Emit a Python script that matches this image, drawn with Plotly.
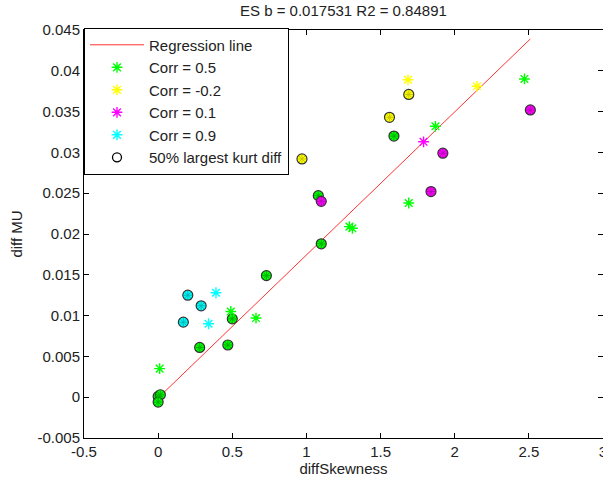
import plotly.graph_objects as go

title_text = "ES b = 0.017531 R2 = 0.84891"
x_label = "diffSkewness"
y_label = "diff MU"
slope_b = 0.017531
intercept_a = -0.0001

x_tickvals = [-0.5, 0, 0.5, 1, 1.5, 2, 2.5, 3]
x_ticktext = ["-0.5", "0", "0.5", "1", "1.5", "2", "2.5", "3"]
y_tickvals = [-0.005, 0, 0.005, 0.01, 0.015, 0.02, 0.025, 0.03, 0.035, 0.04, 0.045]
y_ticktext = ["-0.005", "0", "0.005", "0.01", "0.015", "0.02", "0.025", "0.03", "0.035", "0.04", "0.045"]

# Corr = 0.5 (green)
green_x = [0.0, 0.015, 0.0, 0.01, 0.28, 0.47, 0.49, 0.50, 0.66, 0.73, 1.10, 1.08, 1.29, 1.31, 1.59, 1.69, 1.87, 2.47]
green_y = [0.0001, 0.0003, -0.0006, 0.0035, 0.0061, 0.0064, 0.0105, 0.0096, 0.0097, 0.0149, 0.0188, 0.0247, 0.0209, 0.0207, 0.0320, 0.0238, 0.0332, 0.0390]
green_k = [1, 1, 1, 0, 1, 1, 0, 1, 0, 1, 1, 1, 0, 0, 1, 0, 0, 0]
# Corr = -0.2 (yellow)
yellow_x = [1.685, 2.15, 1.69, 1.56, 0.97]
yellow_y = [0.0389, 0.0381, 0.0371, 0.0343, 0.0292]
yellow_k = [0, 0, 1, 1, 1]
# Corr = 0.1 (magenta)
magenta_x = [1.10, 1.79, 1.92, 1.84, 2.51]
magenta_y = [0.0240, 0.0313, 0.0299, 0.0252, 0.0352]
magenta_k = [1, 0, 1, 1, 1]
# Corr = 0.9 (cyan)
cyan_x = [0.20, 0.29, 0.17, 0.39, 0.34]
cyan_y = [0.0125, 0.0112, 0.0092, 0.0128, 0.0090]
cyan_k = [1, 1, 1, 0, 0]

series_names = ["Corr = 0.5", "Corr = -0.2", "Corr = 0.1", "Corr = 0.9"]
series_colors = ["#00FF00", "#FFFF00", "#FF00FF", "#00FFFF"]
series_dark = ["#00B000", "#C8C800", "#C000C0", "#00B8B8"]
series_x = [green_x, yellow_x, magenta_x, cyan_x]
series_y = [green_y, yellow_y, magenta_y, cyan_y]
series_k = [green_k, yellow_k, magenta_k, cyan_k]
circle_name = "50% largest kurt diff"
line_name = "Regression line"

FONT = "Liberation Sans, Arial, sans-serif"

fig = go.Figure()

all_x = [v for xs in series_x for v in xs]
line_x = [min(all_x), max(all_x)]
line_y = [intercept_a + slope_b * v for v in line_x]
fig.add_trace(go.Scatter(x=line_x, y=line_y, mode="lines", name=line_name,
                         line=dict(color="#FF3333", width=1), legendgroup="g0"))

# filled circles (behind stars)
for name, col, dcol, xs, ys, ks in zip(series_names, series_colors, series_dark, series_x, series_y, series_k):
    cx = [x for x, k in zip(xs, ks) if k]
    cy = [y for y, k in zip(ys, ks) if k]
    fig.add_trace(go.Scatter(x=cx, y=cy, mode="markers", showlegend=False, hoverinfo="skip",
                             marker=dict(symbol="circle", size=10, color=col,
                                         line=dict(color="#333333", width=1.2))))
    fig.add_trace(go.Scatter(x=cx, y=cy, mode="markers", showlegend=False, hoverinfo="skip",
                             marker=dict(symbol="asterisk-open", size=7, color=dcol,
                                         line=dict(color=dcol, width=1))))

for i, (name, col, xs, ys, ks) in enumerate(zip(series_names, series_colors, series_x, series_y, series_k)):
    sx = [x for x, k in zip(xs, ks) if not k]
    sy = [y for y, k in zip(ys, ks) if not k]
    fig.add_trace(go.Scatter(x=sx, y=sy, mode="markers", name=name, legendgroup="g%d" % (i + 1),
                             marker=dict(symbol="asterisk-open", size=9, color=col,
                                         line=dict(color=col, width=1.4))))

fig.add_trace(go.Scatter(x=[None], y=[None], mode="markers", name=circle_name, legendgroup="g9",
                         marker=dict(symbol="circle-open", size=9, color="black",
                                     line=dict(color="black", width=1.3))))

axis_common = dict(showgrid=False, zeroline=False, showline=True, linecolor="black", linewidth=1,
                   mirror="ticks", ticks="inside", ticklen=5, tickcolor="black",
                   tickfont=dict(family=FONT, size=15, color="#222222"), automargin=False)

fig.update_layout(
    width=603, height=484,
    margin=dict(l=84, r=0, t=30, b=46),
    paper_bgcolor="white", plot_bgcolor="white",
    title=dict(text=title_text, x=0.5695, xanchor="center", y=0.978, yanchor="middle",
               font=dict(family=FONT, size=15, color="#222222")),
    xaxis=dict(range=[-0.5, 3], tickvals=x_tickvals, ticktext=x_ticktext, ticklabeloverflow="allow",
               title=dict(text=x_label, font=dict(family=FONT, size=15, color="#222222"), standoff=4),
               **axis_common),
    yaxis=dict(range=[-0.005, 0.045], tickvals=y_tickvals, ticktext=y_ticktext,
               title=dict(text=y_label, font=dict(family=FONT, size=15, color="#222222"), standoff=11),
               **axis_common),
    legend=dict(x=0, y=1.006, xanchor="left", yanchor="top", bgcolor="white",
                bordercolor="black", borderwidth=1, traceorder="grouped", tracegroupgap=0,
                itemwidth=54, font=dict(family=FONT, size=15, color="#222222")),
    showlegend=True,
)

fig.write_html("out.html")
